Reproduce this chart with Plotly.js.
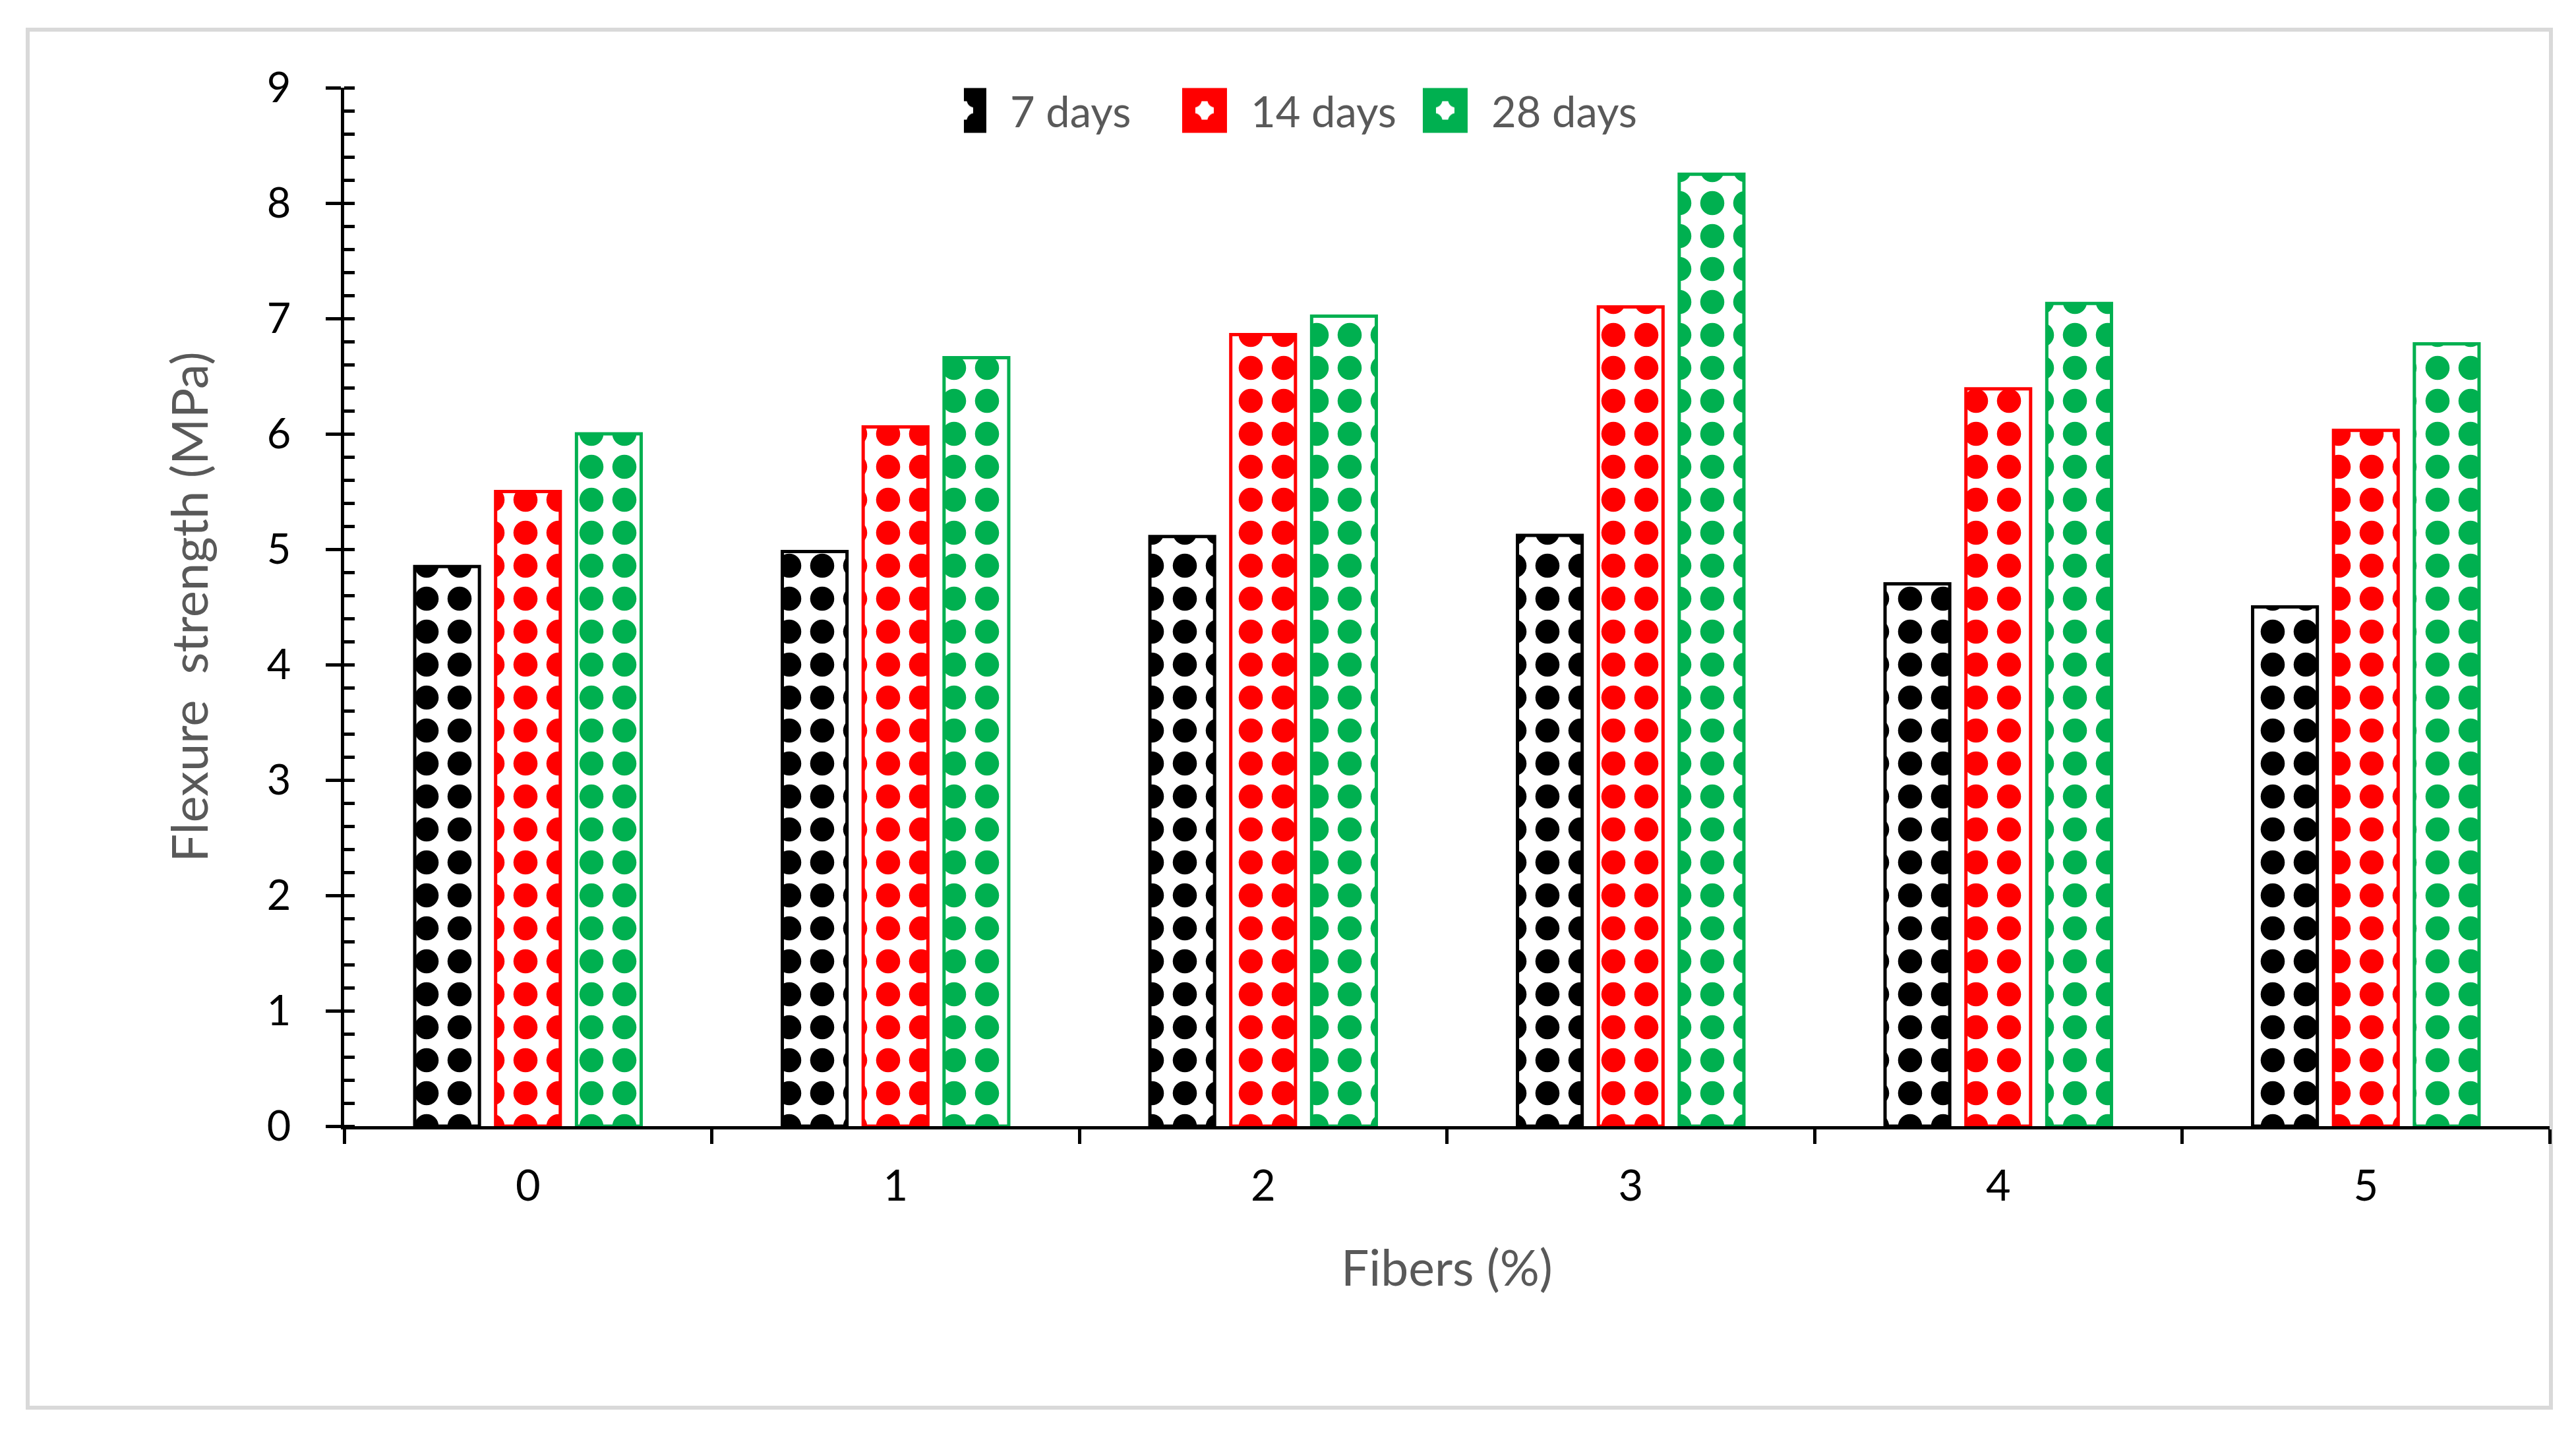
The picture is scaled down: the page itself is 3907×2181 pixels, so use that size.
<!DOCTYPE html>
<html>
<head>
<meta charset="utf-8">
<script src="https://cdn.plot.ly/plotly-3.0.1.min.js"></script>
<style>
html,body{margin:0;padding:0;background:#ffffff;overflow:hidden}
#chart{width:3907px;height:2181px}
</style>
</head>
<body>
<div id="chart"></div>
<script>
// Data
const fibers = ['0', '1', '2', '3', '4', '5'];
const seriesNames = ['7 days', '14 days', '28 days'];
const days7 = [4.85, 4.98, 5.11, 5.12, 4.70, 4.50];
const days14 = [5.50, 6.06, 6.86, 7.10, 6.39, 6.03];
const days28 = [6.00, 6.66, 7.02, 8.25, 7.13, 6.78];
const seriesColors = ['#000000', '#FF0000', '#00B050'];

const seriesValues = [days7, days14, days28];

const traces = seriesValues.map((vals, i) => ({
  type: 'bar',
  name: seriesNames[i],
  x: fibers,
  y: vals,
  hoverinfo: 'skip',
  marker: {
    color: '#ffffff',
    line: {color: seriesColors[i], width: 5},
    pattern: {shape: '.', fgcolor: seriesColors[i], bgcolor: '#ffffff', size: 50, solidity: 0.42, fillmode: 'replace'}
  }
}));

const layout = {
  width: 3907,
  height: 2181,
  margin: {l: 522, r: 40, t: 133, b: 473, pad: 0},
  paper_bgcolor: '#ffffff',
  plot_bgcolor: '#ffffff',
  font: {family: 'Lato, "Open Sans", sans-serif', color: '#000000'},
  barmode: 'group',
  bargap: 0.34,
  bargroupgap: 0.2,
  showlegend: true,
  legend: {
    orientation: 'h',
    x: 0.281, xanchor: 'left',
    y: 0.978, yanchor: 'middle',
    font: {size: 65, color: '#595959'},
    itemwidth: 60,
    entrywidth: 290,
    entrywidthmode: 'pixels',
    bgcolor: 'rgba(0,0,0,0)',
    traceorder: 'normal'
  },
  xaxis: {
    type: 'category',
    range: [-0.5, 5.5],
    showline: true, linecolor: '#000000', linewidth: 5,
    ticks: 'outside', tickson: 'boundaries', ticklen: 22, tickwidth: 5, tickcolor: '#000000',
    tickfont: {size: 65, color: '#000000'},
    ticklabelstandoff: 30,
    showgrid: false, zeroline: false,
    title: {text: 'Fibers (%)', font: {size: 75, color: '#595959'}, standoff: 65}
  },
  xaxis2: {
    overlaying: 'x', anchor: 'y', side: 'bottom',
    range: [-0.5, 5.5], tick0: 0, dtick: 1,
    ticks: 'inside', ticklen: 17, tickwidth: 5, tickcolor: '#000000',
    showticklabels: false, showline: false, showgrid: false, zeroline: false
  },
  yaxis: {
    range: [0, 9], dtick: 1, tick0: 0,
    showline: true, linecolor: '#000000', linewidth: 5,
    ticks: 'outside', ticklen: 23, tickwidth: 5, tickcolor: '#000000',
    tickfont: {size: 63, color: '#000000'},
    ticklabelstandoff: 40,
    showgrid: false, zeroline: false,
    minor: {dtick: 0.2, tick0: 0, ticks: 'inside', ticklen: 16, tickwidth: 5, tickcolor: '#000000', showgrid: false},
    title: {text: 'Flexure\u00a0 strength (MPa)', font: {size: 76, color: '#595959'}, standoff: 66}
  },
  shapes: [{
    type: 'rect', xref: 'paper', yref: 'paper',
    x0: -0.1435, x1: 1.0006, y0: -0.2711, y1: 1.0559,
    line: {color: '#D9D9D9', width: 6}, fillcolor: 'rgba(0,0,0,0)', layer: 'below'
  }]
};

Plotly.newPlot('chart', traces, layout, {displayModeBar: false, staticPlot: true}).then(() => {
  document.querySelectorAll('.legend .legendpoints path').forEach(p => {
    p.setAttribute('transform', 'scale(4)');
  });
});
</script>
</body>
</html>
